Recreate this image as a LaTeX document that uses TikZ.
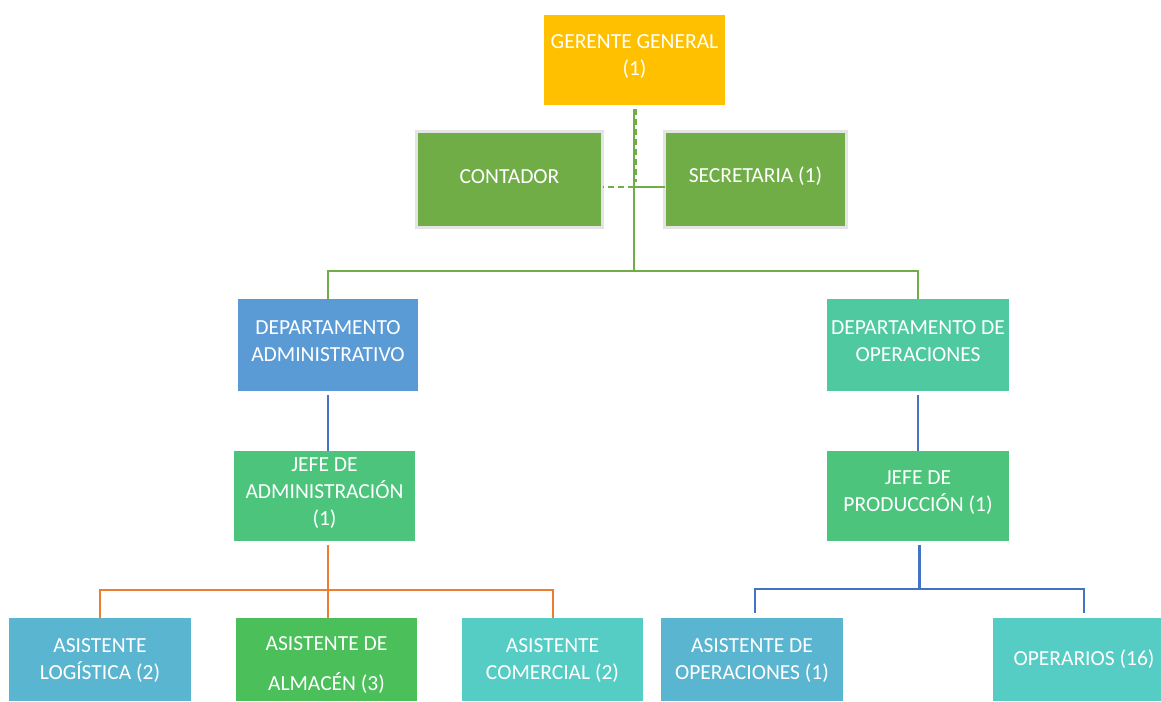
\documentclass[tikz,border=0pt]{standalone}
\usepackage{fontspec}
\setmainfont{Carlito}
\definecolor{cGer}{HTML}{FFC000}
\definecolor{cGreen}{HTML}{70AD47}
\definecolor{cGrey}{HTML}{E4E4E4}
\definecolor{cBlue}{HTML}{5B9BD5}
\definecolor{cTeal}{HTML}{4FC9A0}
\definecolor{cJefe}{HTML}{4CC47C}
\definecolor{cSky}{HTML}{5AB5D1}
\definecolor{cAlm}{HTML}{4ABF5A}
\definecolor{cAqua}{HTML}{55CDC4}
\definecolor{lBlue}{HTML}{4472C4}
\definecolor{lOrange}{HTML}{ED7D31}
\begin{document}
\begin{tikzpicture}[x=1pt,y=-1pt,
  box/.style={inner sep=0pt, outer sep=0pt},
  txt/.style={inner sep=0pt, text=white, align=center,
              font=\fontsize{21.5}{27}\selectfont},
  framed/.style={box, draw=cGrey, line width=3pt, fill=cGreen},
  gline/.style={draw=cGreen, line width=2pt},
  bline/.style={draw=lBlue, line width=2pt},
  oline/.style={draw=lOrange, line width=2pt}]
\useasboundingbox (0,0) rectangle (1161,701);
\fill[white] (0,0) rectangle (1161,701);

% boxes
\node[box, fill=cGer, minimum width=181pt, minimum height=90pt] (ger) at (634.5,60) {};
\node[framed, minimum width=186pt, minimum height=96pt] (cont) at (509.5,179.5) {};
\node[framed, minimum width=182pt, minimum height=96pt] (sec) at (755.5,179.5) {};
\node[box, fill=cBlue, minimum width=180pt, minimum height=92pt] (da) at (328,345) {};
\node[box, fill=cTeal, minimum width=182pt, minimum height=92pt] (dop) at (918,345) {};
\node[box, fill=cJefe, minimum width=181pt, minimum height=90pt] (ja) at (324.5,496) {};
\node[box, fill=cJefe, minimum width=182pt, minimum height=90pt] (jp) at (918,496) {};
\node[box, fill=cSky, minimum width=182pt, minimum height=83pt] (lg) at (100,659.5) {};
\node[box, fill=cAlm, minimum width=181pt, minimum height=83pt] (al) at (326.5,659.5) {};
\node[box, fill=cAqua, minimum width=181pt, minimum height=83pt] (cm) at (552.5,659.5) {};
\node[box, fill=cSky, minimum width=182pt, minimum height=83pt] (ao) at (752,659.5) {};
\node[box, fill=cAqua, minimum width=168pt, minimum height=83pt] (op) at (1077,659.5) {};

% texts
\node[txt] (gerT) at ([yshift=3pt]ger.center) {GERENTE GENERAL\\(1)};
\node[txt] (contT) at ([yshift=3pt]cont.center) {CONTADOR};
\node[txt] (secT) at ([yshift=3pt]sec.center) {SECRETARIA (1)};
\node[txt] (daT) at ([yshift=4pt]da.center) {DEPARTAMENTO\\ADMINISTRATIVO};
\node[txt] (dopT) at ([yshift=4pt]dop.center) {DEPARTAMENTO DE\\OPERACIONES};
\node[txt] (jaT) at ([yshift=3pt]ja.center) {JEFE DE\\ADMINISTRACIÓN\\(1)};
\node[txt] (jpT) at ([yshift=3pt]jp.center) {JEFE DE\\PRODUCCIÓN (1)};
\node[txt] (lgT) at ([yshift=-1pt]lg.center) {ASISTENTE\\LOGÍSTICA (2)};
\node[txt] (alT) at ([yshift=-6pt]al.center) {ASISTENTE DE\\[13pt]ALMACÉN (3)};
\node[txt] (cmT) at ([yshift=-1pt]cm.center) {ASISTENTE\\COMERCIAL (2)};
\node[txt] (aoT) at ([yshift=-1pt]ao.center) {ASISTENTE DE\\OPERACIONES (1)};
\node[txt] (opT) at ([xshift=7pt]op.center) {OPERARIOS (16)};

% junctions
\coordinate (t1) at (634,271);
\coordinate (m) at (634,187);
\coordinate (ob) at (328,590);
\coordinate (bb) at (919,589);

% top connectors
\draw[gline, shorten <=4pt] (ger.south -| t1) -- (t1);
\draw[gline, dash pattern=on 6pt off 4pt, shorten <=4pt] ([xshift=2pt]ger.south -| t1) -- ++(0,77);
\draw[gline, dash pattern=on 6pt off 4pt] (m) -- (m -| cont.east);
\draw[gline] (m) -- (m -| sec.west);
\draw[gline] (da.north) |- (t1) -| (dop.north);

% departments to chiefs
\draw[bline, shorten <=4pt] (da.south) -- (da.south |- ja.north);
\draw[bline, shorten <=4pt] (dop.south) -- (dop.south |- jp.north);

% admin chief to assistants
\draw[oline, shorten <=4pt] (ob |- ja.south) -- (ob);
\draw[oline] (ob) -- (ob |- al.north);
\draw[oline] (lg.north) |- (ob) -| (cm.north);

% production chief to staff
\draw[draw=lBlue, line width=3pt, shorten <=4pt] (bb |- jp.south) -- (bb);
\draw[bline, shorten <=5pt, shorten >=5pt] ([xshift=3pt]ao.north) |- (bb) -| ([xshift=7pt]op.north);
\end{tikzpicture}
\end{document}
